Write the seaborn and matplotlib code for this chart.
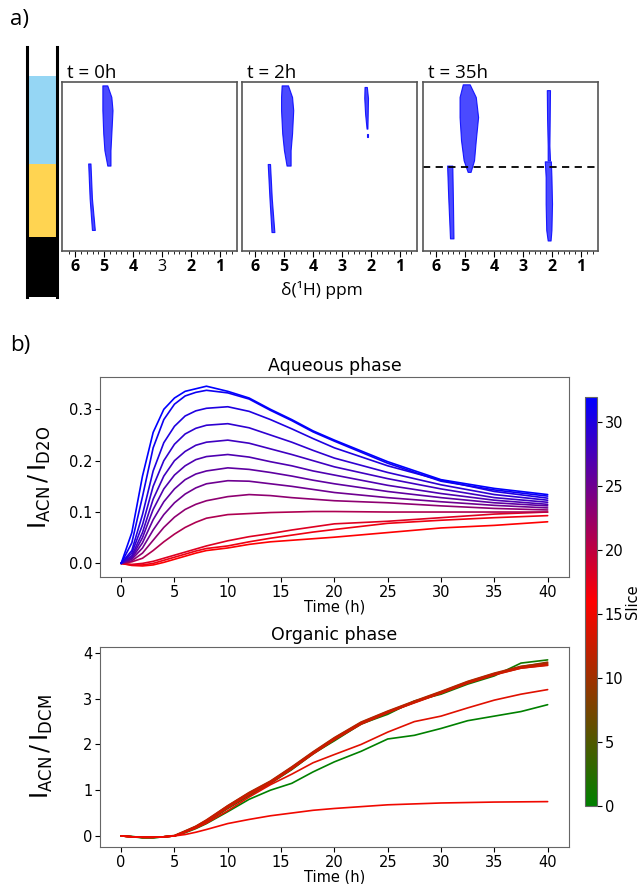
import matplotlib
matplotlib.use('Agg')
import matplotlib.pyplot as plt
from matplotlib.colors import LinearSegmentedColormap, Normalize
from matplotlib.cm import ScalarMappable
import seaborn as sns
import pandas as pd

# ---- a) phase bar (bottom -> top)
phase_heights = [60, 73, 88, 29]
phase_colors = ['black', '#ffd451', '#95d6f4', 'white']

# ---- a) 2D NMR blobs: (slice y, ppm left edge, ppm right edge)
nmr_times = ['t = 0h', 't = 2h', 't = 35h']
t0_water = ([31.4, 29.2, 26.7, 22.3, 19.1, 16.2], [5.06, 5.06, 5.06, 5.03, 4.99, 4.89], [4.89, 4.75, 4.71, 4.75, 4.78, 4.78])
t0_dcm = ([16.6, 10.0, 4.0], [5.55, 5.50, 5.42], [5.47, 5.42, 5.32])
t2_water = ([31.4, 29.2, 26.7, 22.3, 19.1, 16.2], [5.08, 5.10, 5.10, 5.06, 5.00, 4.91], [4.86, 4.72, 4.68, 4.72, 4.77, 4.77])
t2_dcm = ([16.5, 10.0, 3.6], [5.56, 5.50, 5.43], [5.48, 5.42, 5.33])
t2_acn = ([31.1, 29.0, 26.0, 23.2], [2.22, 2.23, 2.20, 2.15], [2.14, 2.10, 2.11, 2.12])
t2_acn_dot = ([22.2, 21.6], [2.13, 2.13], [2.10, 2.10])
t35_water = ([31.6, 29.2, 25.4, 21.0, 17.2, 15.0], [5.08, 5.19, 5.19, 5.14, 5.05, 4.91], [4.84, 4.63, 4.55, 4.63, 4.69, 4.81])
t35_dcm = ([16.2, 10.0, 2.4], [5.62, 5.58, 5.52], [5.44, 5.42, 5.40])
t35_acn_aq = ([30.5, 25.0, 20.0, 17.2], [2.18, 2.17, 2.15, 2.15], [2.07, 2.08, 2.09, 2.07])
t35_acn_org = ([17.0, 14.0, 9.0, 4.0, 2.0], [2.25, 2.22, 2.22, 2.20, 2.15], [2.04, 2.02, 2.00, 2.02, 2.05])
panels = [[t0_water, t0_dcm], [t2_water, t2_dcm, t2_acn, t2_acn_dot],
          [t35_water, t35_dcm, t35_acn_aq, t35_acn_org]]
interface_slice = 16

# ---- b) aqueous phase
t_aq = [0, 1, 2, 3, 4, 5, 6, 7, 8, 10, 12, 14, 16, 18, 20, 25, 30, 35, 40]
aq_s32 = [0, 0.06, 0.17, 0.255, 0.30, 0.322, 0.335, 0.34, 0.345, 0.335, 0.322, 0.30, 0.28, 0.258, 0.24, 0.198, 0.163, 0.146, 0.134]
aq_s31 = [0, 0.04, 0.13, 0.225, 0.28, 0.31, 0.326, 0.333, 0.337, 0.332, 0.32, 0.298, 0.278, 0.256, 0.238, 0.195, 0.16, 0.143, 0.131]
aq_s30 = [0, 0.025, 0.095, 0.18, 0.235, 0.267, 0.287, 0.297, 0.302, 0.305, 0.296, 0.28, 0.262, 0.243, 0.225, 0.19, 0.162, 0.14, 0.127]
aq_s29 = [0, 0.02, 0.075, 0.15, 0.2, 0.232, 0.252, 0.263, 0.269, 0.272, 0.264, 0.25, 0.236, 0.22, 0.205, 0.177, 0.153, 0.134, 0.123]
aq_s28 = [0, 0.015, 0.06, 0.125, 0.17, 0.2, 0.218, 0.23, 0.236, 0.24, 0.234, 0.223, 0.212, 0.2, 0.188, 0.165, 0.145, 0.128, 0.119]
aq_s27 = [0, 0.012, 0.05, 0.105, 0.145, 0.172, 0.19, 0.202, 0.208, 0.212, 0.207, 0.198, 0.19, 0.18, 0.172, 0.152, 0.136, 0.123, 0.115]
aq_s26 = [0, 0.01, 0.04, 0.085, 0.12, 0.145, 0.163, 0.174, 0.18, 0.186, 0.183, 0.177, 0.17, 0.162, 0.155, 0.14, 0.128, 0.118, 0.112]
aq_s25 = [0, 0.008, 0.03, 0.065, 0.095, 0.118, 0.135, 0.147, 0.155, 0.161, 0.16, 0.155, 0.15, 0.144, 0.138, 0.128, 0.12, 0.113, 0.108]
aq_s23 = [0, 0.005, 0.02, 0.045, 0.07, 0.09, 0.105, 0.115, 0.122, 0.13, 0.134, 0.132, 0.128, 0.125, 0.122, 0.118, 0.112, 0.107, 0.104]
aq_s21 = [0, 0.003, 0.01, 0.025, 0.042, 0.057, 0.07, 0.08, 0.088, 0.095, 0.097, 0.099, 0.10, 0.101, 0.101, 0.10, 0.10, 0.10, 0.10]
aq_s18 = [0, -0.002, 0.0, 0.004, 0.01, 0.016, 0.022, 0.028, 0.034, 0.044, 0.052, 0.058, 0.065, 0.071, 0.077, 0.082, 0.089, 0.096, 0.10]
aq_s17 = [0, -0.003, -0.003, 0.0, 0.006, 0.012, 0.018, 0.024, 0.029, 0.034, 0.042, 0.049, 0.055, 0.061, 0.066, 0.078, 0.084, 0.089, 0.093]
aq_s16 = [0, -0.004, -0.005, -0.003, 0.002, 0.008, 0.014, 0.02, 0.025, 0.03, 0.037, 0.042, 0.045, 0.048, 0.051, 0.06, 0.069, 0.074, 0.081]
aq_curves = {32: aq_s32, 31: aq_s31, 30: aq_s30, 29: aq_s29, 28: aq_s28, 27: aq_s27, 26: aq_s26,
             25: aq_s25, 23: aq_s23, 21: aq_s21, 18: aq_s18, 17: aq_s17, 16: aq_s16}

# ---- b) organic phase
t_org = [0, 1, 2, 3, 4, 5, 6, 7, 8, 10, 12, 14, 16, 18, 20, 22.5, 25, 27.5, 30, 32.5, 35, 37.5, 40]
org_s0 = [0, -0.02, -0.04, -0.04, -0.02, 0.0, 0.07, 0.16, 0.27, 0.53, 0.8, 1.0, 1.15, 1.4, 1.62, 1.85, 2.12, 2.2, 2.35, 2.52, 2.62, 2.72, 2.87]
org_s1 = [0, -0.01, -0.04, -0.04, -0.02, 0.0, 0.08, 0.19, 0.3, 0.6, 0.88, 1.15, 1.45, 1.8, 2.08, 2.45, 2.66, 2.95, 3.1, 3.32, 3.5, 3.78, 3.85]
org_s9 = [0, -0.02, -0.03, -0.03, -0.02, 0.0, 0.09, 0.19, 0.31, 0.61, 0.9, 1.15, 1.46, 1.79, 2.1, 2.44, 2.69, 2.92, 3.12, 3.35, 3.53, 3.7, 3.8]
org_s10 = [0, -0.02, -0.03, -0.03, -0.02, 0.01, 0.11, 0.21, 0.34, 0.66, 0.95, 1.2, 1.51, 1.84, 2.15, 2.49, 2.73, 2.95, 3.16, 3.38, 3.56, 3.71, 3.78]
org_s11 = [0, -0.02, -0.03, -0.03, -0.02, 0.0, 0.1, 0.2, 0.33, 0.63, 0.92, 1.18, 1.48, 1.81, 2.12, 2.46, 2.7, 2.92, 3.13, 3.35, 3.53, 3.67, 3.74]
org_s12 = [0, -0.02, -0.03, -0.03, -0.02, 0.0, 0.1, 0.21, 0.35, 0.66, 0.94, 1.19, 1.5, 1.83, 2.14, 2.48, 2.72, 2.94, 3.15, 3.37, 3.55, 3.69, 3.76]
org_s13 = [0, -0.02, -0.03, -0.03, -0.02, 0.0, 0.09, 0.19, 0.32, 0.62, 0.91, 1.16, 1.47, 1.8, 2.11, 2.45, 2.7, 2.91, 3.12, 3.34, 3.52, 3.67, 3.73]
org_s14 = [0, -0.02, -0.03, -0.03, -0.02, 0.0, 0.08, 0.17, 0.28, 0.55, 0.85, 1.12, 1.35, 1.6, 1.78, 2.0, 2.27, 2.5, 2.62, 2.8, 2.97, 3.1, 3.2]
org_s15 = [0, -0.02, -0.03, -0.03, -0.02, 0.0, 0.03, 0.08, 0.14, 0.27, 0.36, 0.44, 0.5, 0.56, 0.6, 0.64, 0.68, 0.7, 0.72, 0.73, 0.74, 0.745, 0.75]
org_curves = {0: org_s0, 1: org_s1, 9: org_s9, 10: org_s10, 11: org_s11, 12: org_s12,
              13: org_s13, 14: org_s14, 15: org_s15}


def to_long(times, curves):
    rows = []
    for s, vals in curves.items():
        for t, v in zip(times, vals):
            rows.append({'time': t, 'ratio': v, 'slice': s})
    return pd.DataFrame(rows)


aq_df = to_long(t_aq, aq_curves)
org_df = to_long(t_org, org_curves)

sns.set_style('ticks')
plt.rcParams['font.family'] = ['DejaVu Sans']
plt.rcParams['text.color'] = 'black'
plt.rcParams['axes.labelcolor'] = 'black'
plt.rcParams['xtick.color'] = 'black'
plt.rcParams['ytick.color'] = 'black'
cmap = LinearSegmentedColormap.from_list('gr_rd_bl', ['green', 'red', 'blue'])
norm = Normalize(vmin=0, vmax=32)

fig = plt.figure(figsize=(6.4, 8.84), dpi=100)

# ---------------- a)
fig.text(0.016, 0.978, 'a)', fontsize=16, family='Open Sans', va='center')

axbar = fig.add_axes([0.042, 0.664, 0.047, 0.283])
bottoms = [sum(phase_heights[:i]) for i in range(len(phase_heights))]
axbar.bar([0] * len(phase_heights), phase_heights, bottom=bottoms, width=1.0,
          color=phase_colors, edgecolor='none')
axbar.set_xlim(-0.5, 0.5)
axbar.set_ylim(0, sum(phase_heights))
axbar.set_xticks([])
axbar.set_yticks([])
for side in ['top', 'bottom']:
    axbar.spines[side].set_visible(False)
for side in ['left', 'right']:
    axbar.spines[side].set_linewidth(2.2)
    axbar.spines[side].set_color('black')

nmr_lefts = [0.097, 0.378, 0.661]
for i, (left, title, peaks) in enumerate(zip(nmr_lefts, nmr_times, panels)):
    ax = fig.add_axes([left, 0.716, 0.274, 0.191])
    for y, l, r in peaks:
        ax.fill_betweenx(y, l, r, facecolor='#2a2aff', alpha=0.85,
                         edgecolor='#0000ff', linewidth=0.8)
    if i == 2:
        ax.axhline(interface_slice, color='black', ls='--', lw=1.3, dashes=(4, 3))
    ax.set_xlim(6.45, 0.4)
    ax.set_ylim(0, 32)
    ax.set_yticks([])
    ax.set_xticks([6, 5, 4, 3, 2, 1])
    ax.set_xticks([x / 5 for x in range(3, 32)], minor=True)
    ax.tick_params(axis='x', which='major', length=4, labelsize=11.5, pad=2)
    ax.tick_params(axis='x', which='minor', length=2.5)
    for lab in ax.get_xticklabels():
        lab.set_fontweight('bold')
        lab.set_family('Open Sans')
    if i == 0:
        ax.get_xticklabels()[3].set_fontweight('normal')
    for sp in ax.spines.values():
        sp.set_color('#555555')
        sp.set_linewidth(1.2)
    ax.set_title(title, loc='left', fontsize=13.5, family='Open Sans', pad=1, x=0.03)

fig.text(0.503, 0.672, 'δ(¹H) ppm', fontsize=12.5, family='Open Sans', ha='center', va='center')

# ---------------- b)
fig.text(0.016, 0.609, 'b)', fontsize=16, family='Open Sans', va='center')

ax1 = fig.add_axes([0.156, 0.347, 0.733, 0.226])
sns.lineplot(data=aq_df, x='time', y='ratio', hue='slice', palette=cmap, hue_norm=norm,
             estimator=None, legend=False, linewidth=1.2, ax=ax1)
ax1.set_xlim(-2, 42)
ax1.set_ylim(-0.027, 0.362)
ax1.set_xticks(range(0, 41, 5))
ax1.set_yticks([0.0, 0.1, 0.2, 0.3])
ax1.set_title('Aqueous phase', fontsize=12.5, pad=5)
ax1.set_xlabel('Time (h)', fontsize=10.5, labelpad=0)
ax1.set_ylabel(r'$\mathregular{I_{ACN}\,/\,I_{D2O}}$', fontsize=17)
ax1.yaxis.set_label_coords(-0.1, 0.5)

ax2 = fig.add_axes([0.156, 0.042, 0.733, 0.226])
sns.lineplot(data=org_df, x='time', y='ratio', hue='slice', palette=cmap, hue_norm=norm,
             estimator=None, legend=False, linewidth=1.2, ax=ax2)
ax2.set_xlim(-2, 42)
ax2.set_ylim(-0.24, 4.13)
ax2.set_xticks(range(0, 41, 5))
ax2.set_yticks([0, 1, 2, 3, 4])
ax2.set_title('Organic phase', fontsize=12.5, pad=5)
ax2.set_xlabel('Time (h)', fontsize=10.5, labelpad=0)
ax2.set_ylabel(r'$\mathregular{I_{ACN}\,/\,I_{DCM}}$', fontsize=17)
ax2.yaxis.set_label_coords(-0.096, 0.5)

for ax in (ax1, ax2):
    ax.tick_params(labelsize=10.5, length=3.5, pad=2)
    for sp in ax.spines.values():
        sp.set_color('#666666')

cax = fig.add_axes([0.914, 0.088, 0.019, 0.463])
cb = fig.colorbar(ScalarMappable(norm=norm, cmap=cmap), cax=cax)
cb.set_ticks(range(0, 31, 5))
cb.set_label('Slice', fontsize=10.5, labelpad=1)
cb.ax.tick_params(labelsize=10.5, pad=2)
cb.outline.set_edgecolor('#666666')

fig.savefig('out.png', dpi=100)
